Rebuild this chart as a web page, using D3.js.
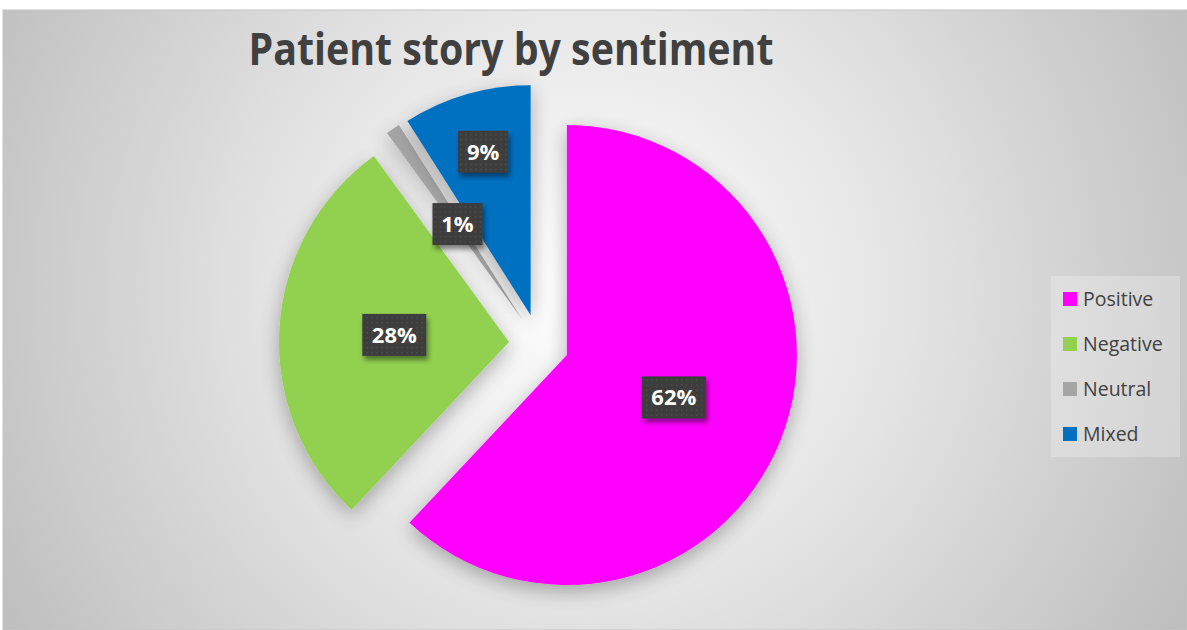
<!doctype html>
<html lang="en">
  <head>
    <meta charset="utf-8">
    <title>Patient story by sentiment</title>
    <script src="https://d3js.org/d3.v7.min.js"></script>
    <style>
      body { margin: 0; background: #fff; }
      text { font-family: "Open Sans", sans-serif; }
    </style>
  </head>
  <body>
    <svg width="1187" height="630"></svg>
    <script>
      var categories = ['Positive', 'Negative', 'Neutral', 'Mixed'];
      var values = [62, 28, 1, 9];
      var colors = ['#ff00ff', '#92d050', '#a5a5a5', '#0070c0'];
      var labelPos = [0.5, 0.5, 0.5, 0.74];   // label radius as share of r

      var svg = d3.select('svg');
      var defs = svg.append('defs');

      var grad = defs.append('radialGradient')
        .attr('id', 'bg')
        .attr('gradientUnits', 'userSpaceOnUse')
        .attr('cx', 590).attr('cy', 290).attr('r', 700);
      grad.append('stop').attr('offset', 0).attr('stop-color', '#ffffff');
      grad.append('stop').attr('offset', 0.45).attr('stop-color', '#e4e4e4');
      grad.append('stop').attr('offset', 1).attr('stop-color', '#bcbcbc');

      var shadow = defs.append('filter').attr('id', 'shadow')
        .attr('x', '-20%').attr('y', '-20%').attr('width', '140%').attr('height', '140%');
      shadow.append('feGaussianBlur').attr('in', 'SourceAlpha').attr('stdDeviation', 10);
      shadow.append('feOffset').attr('dx', 0).attr('dy', 6).attr('result', 'b');
      shadow.append('feComponentTransfer').append('feFuncA').attr('type', 'linear').attr('slope', 0.3);
      var m = shadow.append('feMerge');
      m.append('feMergeNode');
      m.append('feMergeNode').attr('in', 'SourceGraphic');

      var lshadow = defs.append('filter').attr('id', 'lshadow')
        .attr('x', '-30%').attr('y', '-30%').attr('width', '160%').attr('height', '170%');
      lshadow.append('feGaussianBlur').attr('in', 'SourceAlpha').attr('stdDeviation', 2.5);
      lshadow.append('feOffset').attr('dx', 2).attr('dy', 4);
      lshadow.append('feComponentTransfer').append('feFuncA').attr('type', 'linear').attr('slope', 0.45);
      var lm = lshadow.append('feMerge');
      lm.append('feMergeNode');
      lm.append('feMergeNode').attr('in', 'SourceGraphic');

      var dots = defs.append('pattern').attr('id', 'dots')
        .attr('patternUnits', 'userSpaceOnUse').attr('width', 5).attr('height', 5);
      dots.append('rect').attr('width', 5).attr('height', 5).attr('fill', '#3c3c3c');
      dots.append('rect').attr('x', 2).attr('y', 2).attr('width', 1.5).attr('height', 1.5).attr('fill', '#4f4f4f');

      svg.append('rect')
        .attr('x', 3).attr('y', 10).attr('width', 1184).attr('height', 620)
        .attr('fill', 'url(#bg)')
        .attr('stroke', '#c4c4c4');

      svg.append('text')
        .attr('x', 511).attr('y', 65)
        .attr('text-anchor', 'middle')
        .attr('textLength', 525).attr('lengthAdjust', 'spacingAndGlyphs')
        .style('font-size', '44px').style('font-weight', 'bold')
        .style('fill', '#404040')
        .text('Patient story by sentiment');

      var cx = 539, cy = 344, r = 230, explode = 30;

      var pie = d3.pie().sort(null).value(function(d){ return d; });
      var arc = d3.arc().innerRadius(0).outerRadius(r);
      var arcs = pie(values);

      function offset(d, dist) {
        var a = (d.startAngle + d.endAngle) / 2;
        return [Math.sin(a) * dist, -Math.cos(a) * dist];
      }

      var g = svg.append('g').attr('transform', 'translate(' + cx + ',' + cy + ')');

      g.selectAll('path').data(arcs).enter().append('path')
        .attr('transform', function(d){ var o = offset(d, explode); return 'translate(' + o + ')'; })
        .attr('d', arc)
        .attr('fill', function(d, i){ return colors[i]; })
        .attr('filter', 'url(#shadow)');

      var lab = g.selectAll('g.lab').data(arcs).enter().append('g')
        .attr('class', 'lab')
        .attr('transform', function(d, i){
          var o = offset(d, explode + r * labelPos[i]);
          return 'translate(' + o + ')';
        });

      lab.each(function(d){
        var el = d3.select(this);
        var txt = Math.round(d.value / d3.sum(values) * 100) + '%';
        var w = txt.length > 2 ? 64 : 50;
        el.append('rect')
          .attr('x', -w / 2).attr('y', -21).attr('width', w).attr('height', 42)
          .attr('fill', 'url(#dots)')
          .attr('filter', 'url(#lshadow)');
        el.append('text')
          .attr('text-anchor', 'middle').attr('dy', 8)
          .style('font-size', '22px').style('font-weight', 'bold')
          .style('fill', '#ffffff')
          .text(txt);
      });

      var legend = svg.append('g');
      legend.append('rect')
        .attr('x', 1051).attr('y', 276).attr('width', 129).attr('height', 181)
        .attr('fill', '#ffffff').attr('fill-opacity', 0.25);

      var item = legend.selectAll('g.item').data(categories).enter().append('g')
        .attr('transform', function(d, i){ return 'translate(1063,' + (299 + i * 45) + ')'; });
      item.append('rect')
        .attr('y', -7).attr('width', 14).attr('height', 14)
        .attr('fill', function(d, i){ return colors[i]; });
      item.append('text')
        .attr('x', 20).attr('dy', 7)
        .style('font-size', '19.5px').style('fill', '#404040')
        .text(function(d){ return d; });
    </script>
  </body>
</html>
